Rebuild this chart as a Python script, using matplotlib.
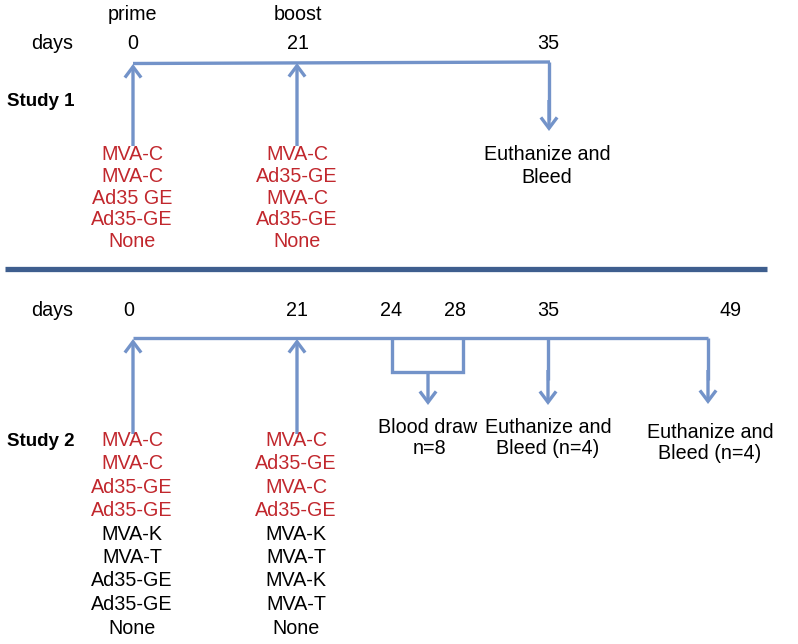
import matplotlib
matplotlib.use("Agg")
import matplotlib.pyplot as plt

plt.rcParams['font.family'] = ['Liberation Sans', 'DejaVu Sans']

# ---- data ----
study1_days = ["0", "21", "35"]
study1_phase = ["prime", "boost"]
study1_prime = ["MVA-C", "MVA-C", "Ad35 GE", "Ad35-GE", "None"]
study1_boost = ["MVA-C", "Ad35-GE", "MVA-C", "Ad35-GE", "None"]
study1_end = ["Euthanize and", "Bleed"]

study2_days = ["0", "21", "24", "28", "35", "49"]
study2_prime = ["MVA-C", "MVA-C", "Ad35-GE", "Ad35-GE", "MVA-K", "MVA-T", "Ad35-GE", "Ad35-GE", "None"]
study2_boost = ["MVA-C", "Ad35-GE", "MVA-C", "Ad35-GE", "MVA-K", "MVA-T", "MVA-K", "MVA-T", "None"]
study2_red = [True, True, True, True, False, False, False, False, False]
study2_events = [["Blood draw", "n=8"], ["Euthanize and", "Bleed (n=4)"], ["Euthanize and", "Bleed (n=4)"]]

# ---- styles ----
BLUE = "#7393C9"
DARK = "#3E5E8E"
RED = "#C1272D"
FS = 14.2
LW = 2.4

fig = plt.figure(figsize=(7.98, 6.44), dpi=100)
ax = fig.add_axes([0, 0, 1, 1])
ax.set_xlim(0, 798)
ax.set_ylim(644, 0)
ax.axis("off")

def txt(x, y, s, color="black", ha="center", weight="normal", fs=FS):
    ax.text(x, y, s, color=color, ha=ha, va="center", fontsize=fs, fontweight=weight)

def arrow(x0, y0, x1, y1):
    ax.annotate("", xy=(x1, y1), xytext=(x0, y0),
                arrowprops=dict(arrowstyle="->,head_length=0.6,head_width=0.45",
                                color=BLUE, lw=LW, shrinkA=0, shrinkB=0,
                                mutation_scale=13,
                                capstyle="butt", joinstyle="miter"))

def line(xs, ys, color=BLUE, lw=LW):
    ax.plot(xs, ys, color=color, lw=lw, solid_capstyle="butt", solid_joinstyle="miter")

# ---- Study 1 ----
txt(132, 14, study1_phase[0])
txt(298, 14, study1_phase[1])
txt(52, 43, "days")
for x, d in zip([133, 298, 548], study1_days):
    txt(x, 43, d)
txt(7, 101, "Study 1", ha="left", weight="bold", fs=13.5)
line([133, 550], [63.5, 62])
line([549, 549], [62, 120])
arrow(549, 100, 549, 131)
arrow(133, 146, 133, 64)
arrow(297, 146, 297, 63)
ys1 = [154, 176, 198, 219.5, 241]
for y, a, b in zip(ys1, study1_prime, study1_boost):
    txt(132, y, a, color=RED)
    txt(297, y, b, color=RED)
txt(547, 154, study1_end[0])
txt(547, 177, study1_end[1])

# ---- separator ----
line([5, 767], [269, 269], color=DARK, lw=3.8)

# ---- Study 2 ----
txt(52, 310, "days")
for x, d in zip([129, 297, 391, 455, 548, 731], study2_days):
    txt(x, 310, d)
txt(7, 441, "Study 2", ha="left", weight="bold", fs=13.5)
line([133, 708], [338, 338])
line([392, 392, 463, 463], [338, 372, 372, 338])
arrow(428, 372, 428, 405)
line([548, 548], [338, 380])
arrow(548, 370, 548, 405)
line([708, 708], [338, 380])
arrow(708, 370, 708, 404)
arrow(133, 434, 133, 339)
arrow(297, 434, 297, 339)

ys2 = [440, 463.5, 487, 510.5, 534, 557.5, 581, 604.5, 628]
for y, a, b, r in zip(ys2, study2_prime, study2_boost, study2_red):
    c = RED if r else "black"
    txt(132, y, a, color=c)
    txt(296, y, b, color=c)

ev_x = [428, 548, 710]
ev_y = [427, 427, 432]
for x, y, ev in zip(ev_x, ev_y, study2_events):
    txt(x, y, ev[0])
    txt(x if ev[1] != "n=8" else x + 2, y + 21, ev[1])

fig.savefig("out.png", dpi=100)
